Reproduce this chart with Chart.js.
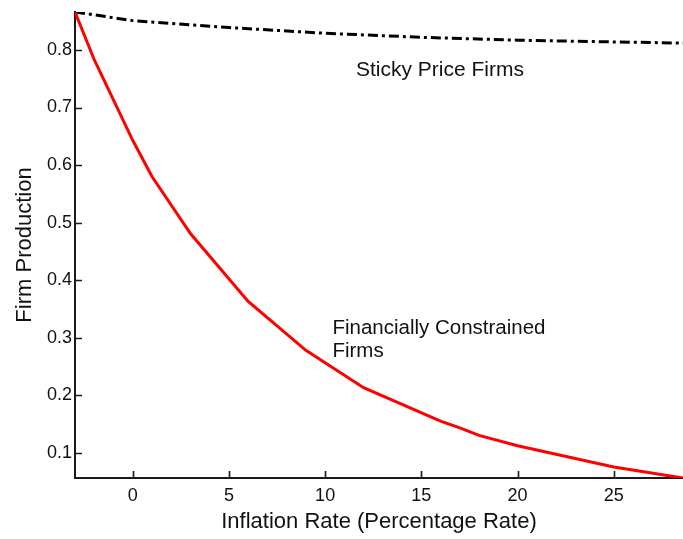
<!DOCTYPE html>
<html>
<head>
<meta charset="utf-8">
<title>Firm Production vs Inflation Rate</title>
<script src="https://cdn.jsdelivr.net/npm/chart.js@4/dist/chart.umd.min.js"></script>
<style>
  html, body { margin: 0; padding: 0; background: #fff; }
  canvas { display: block; }
</style>
</head>
<body>
<canvas id="chart" width="683" height="539"></canvas>
<script>
// Inflation rate (percent) at which each series was evaluated
const constrainedX = [-3, -2, 0, 1, 3, 6, 9, 12, 16, 17, 18, 20, 25, 28.6];
const constrainedY = [0.866, 0.783, 0.643, 0.580, 0.481, 0.363, 0.278, 0.213, 0.155, 0.143, 0.130, 0.112, 0.075, 0.056];

const stickyX = [-3, 0, 5, 10, 15, 20, 25, 28.6];
const stickyY = [0.866, 0.851, 0.839, 0.829, 0.822, 0.817, 0.814, 0.812];

const xTicks = [0, 5, 10, 15, 20, 25];
const yTicks = [0.1, 0.2, 0.3, 0.4, 0.5, 0.6, 0.7, 0.8];

const xTitle = 'Inflation Rate (Percentage Rate)';
const yTitle = 'Firm Production';

// In-plot labels: text lines, anchor in data units (left edge, first baseline)
const curveLabels = [
  { lines: ['Sticky Price Firms'], x: 11.6, y: 0.755, size: 21 },
  { lines: ['Financially Constrained', 'Firms'], x: 10.38, y: 0.3056, size: 20.5 }
];

const FONT = '"Liberation Sans", Arial, Helvetica, sans-serif';

function toPoints(xs, ys) {
  return xs.map((x, i) => ({ x: x, y: ys[i] }));
}

// Short tick marks drawn inward from the axes
const innerTicks = {
  id: 'innerTicks',
  afterDatasetsDraw(chart) {
    const { ctx, chartArea, scales } = chart;
    ctx.save();
    ctx.strokeStyle = '#1a1a1a';
    ctx.lineWidth = 1.6;
    ctx.beginPath();
    xTicks.forEach(v => {
      const px = Math.round(scales.x.getPixelForValue(v)) + 0.5;
      ctx.moveTo(px, chartArea.bottom);
      ctx.lineTo(px, chartArea.bottom - 7);
    });
    yTicks.forEach(v => {
      const py = Math.round(scales.y.getPixelForValue(v)) + 0.5;
      ctx.moveTo(chartArea.left, py);
      ctx.lineTo(chartArea.left + 7, py);
    });
    ctx.stroke();
    ctx.restore();
  }
};

// Text labels next to each curve
const curveText = {
  id: 'curveText',
  afterDatasetsDraw(chart) {
    const { ctx, scales } = chart;
    ctx.save();
    ctx.fillStyle = '#111';
    ctx.textAlign = 'left';
    ctx.textBaseline = 'alphabetic';
    curveLabels.forEach(lbl => {
      ctx.font = lbl.size + 'px ' + FONT;
      const px = scales.x.getPixelForValue(lbl.x);
      const py = scales.y.getPixelForValue(lbl.y);
      lbl.lines.forEach((line, i) => {
        ctx.fillText(line, px, py + i * lbl.size * 1.1);
      });
    });
    ctx.restore();
  }
};

new Chart(document.getElementById('chart'), {
  type: 'line',
  data: {
    datasets: [
      {
        label: 'Financially Constrained Firms',
        data: toPoints(constrainedX, constrainedY),
        borderColor: '#ff0000',
        borderWidth: 3,
        pointRadius: 0,
        tension: 0,
        fill: false
      },
      {
        label: 'Sticky Price Firms',
        data: toPoints(stickyX, stickyY),
        borderColor: '#000000',
        borderWidth: 3,
        borderDash: [10, 4, 3, 4],
        pointRadius: 0,
        tension: 0,
        fill: false
      }
    ]
  },
  options: {
    responsive: false,
    animation: false,
    devicePixelRatio: 1,
    layout: { padding: { top: 12, right: 0, left: 0, bottom: 0 } },
    plugins: {
      legend: { display: false },
      tooltip: { enabled: false }
    },
    scales: {
      x: {
        type: 'linear',
        min: -3,
        max: 28.6,
        afterBuildTicks: s => { s.ticks = xTicks.map(v => ({ value: v })); },
        afterFit: s => { s.height = 61; },
        grid: { display: false, drawTicks: false },
        border: { display: true, color: '#1a1a1a', width: 2 },
        ticks: {
          padding: 9,
          color: '#111',
          font: { family: FONT, size: 18, lineHeight: 1 },
          maxRotation: 0,
          callback: v => String(v)
        },
        title: {
          display: true,
          text: xTitle,
          color: '#111',
          font: { family: FONT, size: 22 },
          padding: { top: 0, bottom: 4 }
        }
      },
      y: {
        type: 'linear',
        min: 0.056,
        max: 0.866,
        afterBuildTicks: s => { s.ticks = yTicks.map(v => ({ value: v })); },
        afterFit: s => { s.width = 75; },
        grid: { display: false, drawTicks: false },
        border: { display: true, color: '#1a1a1a', width: 2 },
        ticks: {
          padding: 3,
          color: '#111',
          font: { family: FONT, size: 18, lineHeight: 1 },
          callback: v => v.toFixed(1)
        },
        title: {
          display: true,
          text: yTitle,
          color: '#111',
          font: { family: FONT, size: 22 },
          padding: { top: 12, bottom: 0 }
        }
      }
    }
  },
  plugins: [innerTicks, curveText]
});
</script>
</body>
</html>
